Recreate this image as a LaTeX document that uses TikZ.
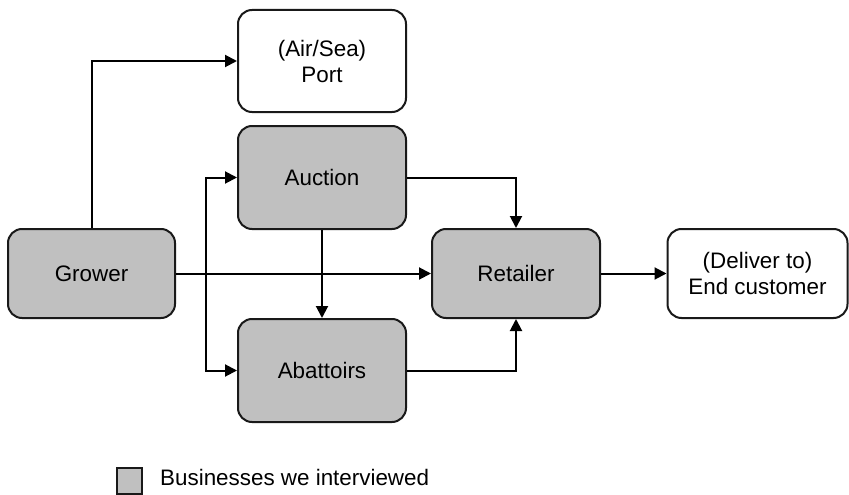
\documentclass[tikz,border=0pt]{standalone}
\usepackage{fontspec}
\setmainfont{Liberation Sans}
\usetikzlibrary{arrows.meta}
\definecolor{boxgray}{HTML}{C0C0C0}
\begin{document}
\begin{tikzpicture}[x=1pt,y=-1pt,
  base/.style={draw=black!90, line width=2pt, rounded corners=14pt, align=center,
    font=\fontsize{22.4}{26}\selectfont, inner sep=0pt},
  wbox/.style={base, fill=white},
  gbox/.style={base, fill=boxgray},
  conn/.style={line width=2pt, -{Triangle[length=12pt,width=12pt]}}]
\useasboundingbox (0,0) rectangle (849,495);
\node[wbox, minimum width=168pt, minimum height=102pt] (port) at (322,61) {(Air/Sea)\\Port};
\node[gbox, minimum width=168pt, minimum height=103pt] (auction) at (322,177.5) {Auction};
\node[gbox, minimum width=167pt, minimum height=89pt] (grower) at (91.5,273.5) {Grower};
\node[gbox, minimum width=168pt, minimum height=103pt] (abattoirs) at (322,370.5) {Abattoirs};
\node[gbox, minimum width=168pt, minimum height=89pt] (retailer) at (516,273.5) {Retailer};
\node[wbox, minimum width=180pt, minimum height=89pt] (end) at (757.5,273.5) {(Deliver to)\\End customer};
\coordinate (j) at (206,273.5);
% connectors
\draw[conn] (grower.north) |- (port.west);
\draw[conn] (grower.east) -- (retailer.west);
\draw[conn] (j) |- (auction.west);
\draw[conn] (j) |- (abattoirs.west);
\draw[conn] (auction.south) -- (abattoirs.north);
\draw[conn] (auction.east) -| (retailer.north);
\draw[conn] (abattoirs.east) -| (retailer.south);
\draw[conn] (retailer.east) -- (end.west);
% legend
\node[draw=black!90, line width=2pt, fill=boxgray, minimum width=25pt, minimum height=26pt, inner sep=0pt] (leg) at (129,480.5) {};
\node[anchor=west, font=\fontsize{22.4}{26}\selectfont, inner sep=0pt] (legtext) at (160,477) {Businesses we interviewed};
\end{tikzpicture}
\end{document}
